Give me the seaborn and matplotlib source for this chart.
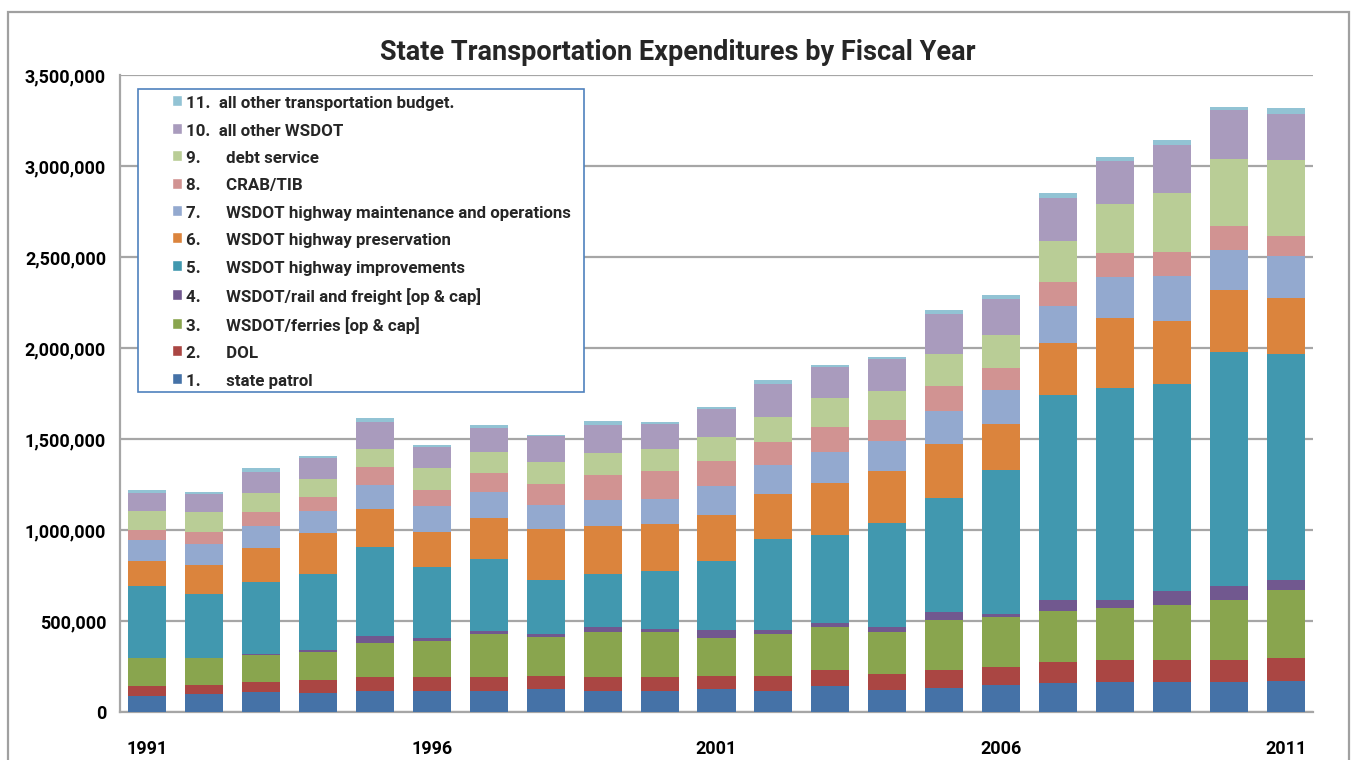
import numpy as np
import pandas as pd
import matplotlib
matplotlib.use("Agg")
import matplotlib.pyplot as plt
import seaborn as sns
from matplotlib.patches import Patch, Rectangle
from matplotlib.legend_handler import HandlerPatch
from matplotlib.ticker import FuncFormatter, MultipleLocator

years = [str(y) for y in range(1991, 2012)]
shown_years = ["1991", "1996", "2001", "2006", "2011"]

state_patrol = [88000, 99000, 110000, 103000, 114000, 114000, 114000, 125000, 114000, 114000, 125000,
                114000, 141000, 119000, 132000, 148000, 161000, 166000, 166000, 166000, 170000]
dol = [55000, 48000, 53000, 71000, 78000, 78000, 78000, 71000, 77000, 77000, 71000,
       82000, 88000, 88000, 98000, 99000, 111000, 117000, 117000, 117000, 124000]
ferries = [154000, 150000, 150000, 156000, 185000, 198000, 237000, 214000, 247000, 247000, 209000,
           231000, 236000, 231000, 273000, 274000, 282000, 289000, 304000, 333000, 379000]
rail_freight = [0, 0, 4000, 11000, 41000, 17000, 16000, 17000, 27000, 16000, 44000,
                22000, 22000, 27000, 47000, 18000, 62000, 44000, 77000, 77000, 53000]
hwy_improvements = [395000, 352000, 397000, 417000, 487000, 388000, 394000, 298000, 292000, 319000, 379000,
                    500000, 484000, 572000, 627000, 792000, 1126000, 1165000, 1140000, 1287000, 1241000]
hwy_preservation = [136000, 157000, 187000, 224000, 209000, 194000, 227000, 279000, 263000, 258000, 253000,
                    249000, 286000, 286000, 295000, 252000, 287000, 385000, 344000, 340000, 305000]
hwy_maintenance = [117000, 117000, 121000, 121000, 132000, 143000, 143000, 132000, 143000, 138000, 161000,
                   158000, 172000, 165000, 181000, 185000, 203000, 225000, 247000, 221000, 234000]
crab_tib = [55000, 66000, 75000, 77000, 99000, 88000, 103000, 115000, 138000, 154000, 136000,
            126000, 136000, 115000, 137000, 124000, 132000, 132000, 133000, 132000, 112000]
debt_service = [103000, 108000, 105000, 99000, 99000, 119000, 117000, 121000, 121000, 121000, 132000,
                137000, 159000, 159000, 177000, 179000, 225000, 267000, 324000, 365000, 415000]
other_wsdot = [101000, 101000, 117000, 117000, 148000, 116000, 134000, 143000, 154000, 137000, 153000,
               184000, 172000, 176000, 221000, 198000, 237000, 236000, 263000, 267000, 252000]
other_transport = [14000, 9000, 20000, 11000, 22000, 11000, 13000, 9000, 22000, 11000, 11000,
                   20000, 11000, 11000, 20000, 22000, 26000, 23000, 28000, 19000, 31000]

series_names = ["1.      state patrol", "2.      DOL", "3.      WSDOT/ferries [op & cap]",
                "4.      WSDOT/rail and freight [op & cap]", "5.      WSDOT highway improvements",
                "6.      WSDOT highway preservation", "7.      WSDOT highway maintenance and operations",
                "8.      CRAB/TIB", "9.      debt service", "10.  all other WSDOT",
                "11.  all other transportation budget."]
series_values = [state_patrol, dol, ferries, rail_freight, hwy_improvements, hwy_preservation,
                 hwy_maintenance, crab_tib, debt_service, other_wsdot, other_transport]
series_colors = ["#4572A7", "#AA4643", "#89A54E", "#71588F", "#4198AF", "#DB843D",
                 "#93A9CF", "#D19392", "#B9CD96", "#A99BBD", "#92C3D4"]

sns.set_theme(style="white")
plt.rcParams["font.family"] = ["Roboto", "DejaVu Sans"]
plt.rcParams["font.weight"] = "bold"

fig = plt.figure(figsize=(13.53, 7.60), dpi=100)
ax = fig.add_axes([120 / 1353, 1 - 712 / 760, 1193 / 1353, 637 / 760])

data = pd.DataFrame({"year": years})
cum = np.cumsum(np.array(series_values, dtype=float), axis=0)
for i in range(len(series_values) - 1, -1, -1):
    data["v"] = cum[i]
    sns.barplot(data=data, x="year", y="v", color=series_colors[i], saturation=1,
                width=0.67, linewidth=0, errorbar=None, ax=ax, zorder=3)

grid_c = "#A6A6A6"
ax.set_ylim(0, 3500000)
ax.set_xlim(-0.48, 20.48)
ax.yaxis.set_major_locator(MultipleLocator(500000))
ax.yaxis.set_major_formatter(FuncFormatter(lambda v, p: f"{int(v):,}"))
ax.grid(axis="y", color=grid_c, linewidth=1.6, zorder=0)
ax.set_axisbelow(True)
for s in ["top", "right"]:
    ax.spines[s].set_visible(False)
for s in ["left", "bottom"]:
    ax.spines[s].set_color(grid_c)
    ax.spines[s].set_linewidth(1.6)
ax.set_xticks([years.index(y) for y in shown_years])
ax.set_xticklabels(shown_years)
ax.tick_params(axis="both", length=0, labelsize=13, colors="black")
ax.tick_params(axis="y", pad=10)
ax.tick_params(axis="x", pad=20)
for lab in ax.get_xticklabels() + ax.get_yticklabels():
    lab.set_fontweight("bold")
ax.set_xlabel("")
ax.set_ylabel("")

fig.text(678 / 1353, 1 - 52 / 760, "State Transportation Expenditures by Fiscal Year",
         ha="center", va="center", fontsize=19.5, fontweight="bold")

# outer chart frame
fig.add_artist(Rectangle((8 / 1353, -0.05), (1349 - 8) / 1353, 1.05 - 12 / 760,
                         transform=fig.transFigure, fill=False, edgecolor="#A0A0A0", linewidth=1.6))

# legend box
x0 = (138 - 120) / 1193
x1 = (584 - 120) / 1193
y0 = (712 - 392) / 637
y1 = (712 - 89) / 637
ax.add_patch(Rectangle((x0, y0), x1 - x0, y1 - y0, transform=ax.transAxes, facecolor="white",
                       edgecolor="#4F81BD", linewidth=1.2, zorder=10))


def square(legend, orig_handle, xdescent, ydescent, width, height, fontsize):
    w = 10 / 1.3889
    h = 11 / 1.3889
    return Rectangle((-xdescent + width - w, -ydescent + (height - h) / 2 + 1), w, h)


handles = [Patch(facecolor=c) for c in series_colors][::-1]
labels = series_names[::-1]
leg = ax.legend(handles, labels, loc="upper left", bbox_to_anchor=((171 - 120) / 1193, (712 - 96) / 637),
                frameon=False, borderaxespad=0, borderpad=0, handlelength=0.65, handleheight=0.75,
                handletextpad=0.25, labelspacing=0.725,
                handler_map={Patch: HandlerPatch(patch_func=square)},
                prop={"weight": "bold", "size": 12.2})
leg.set_zorder(11)

fig.savefig("out.png", dpi=100)
